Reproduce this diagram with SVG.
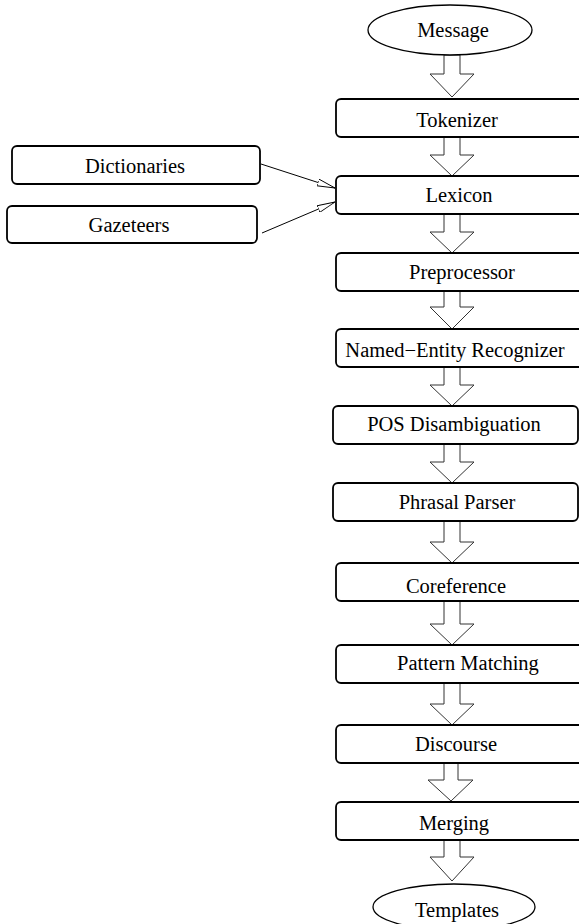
<svg xmlns="http://www.w3.org/2000/svg" width="579" height="924" viewBox="0 0 579 924">
<style>
.box{fill:#fff;stroke:#000;stroke-width:1.8}
.ell{fill:#fff;stroke:#000;stroke-width:1.3}
.blk{fill:#fff;stroke:#333;stroke-width:1}
.ln{fill:none;stroke:#000;stroke-width:1}
text{font-family:"Liberation Serif","Times New Roman",serif;font-size:20.5px;fill:#000;text-anchor:middle}
</style>
<defs>
<marker id="open" viewBox="0 0 18 8" refX="18" refY="4" markerWidth="18" markerHeight="8" markerUnits="userSpaceOnUse" orient="auto">
<path d="M0,0.5 L18,4 L0,7.5 Z" fill="#fff" stroke="#000" stroke-width="0.9"/>
</marker>
</defs>
<g id="connectors">
<polygon class="blk" points="444,55 460,55 460,74 474,74 452,97 430,74 444,74"/>
<polygon class="blk" points="444,137 460,137 460,155 474,155 452,176 430,155 444,155"/>
<polygon class="blk" points="444,214 460,214 460,232 474,232 452,253 430,232 444,232"/>
<polygon class="blk" points="444,291 460,291 460,307 474,307 452,329 430,307 444,307"/>
<polygon class="blk" points="444,367 460,367 460,385 474,385 452,406 430,385 444,385"/>
<polygon class="blk" points="444,444 460,444 460,462 474,462 452,483 430,462 444,462"/>
<polygon class="blk" points="444,521 460,521 460,542 474,542 452,563 430,542 444,542"/>
<polygon class="blk" points="444,601 460,601 460,624 474,624 452,645 430,624 444,624"/>
<polygon class="blk" points="444,683 460,683 460,704 474,704 452,725 430,704 444,704"/>
<polygon class="blk" points="444,761 458,761 458,780 473,780 451,801 428,780 444,780"/>
<polygon class="blk" points="444,840 460,840 460,857 474,857 452,881 430,857 444,857"/>
<line class="ln" x1="261" y1="164" x2="335" y2="188" marker-end="url(#open)"/>
<line class="ln" x1="262" y1="233" x2="335" y2="202" marker-end="url(#open)"/>
</g>
<g id="message"><ellipse class="ell" cx="450" cy="30" rx="82" ry="25"/><text x="453" y="37">Message</text></g>
<g id="tokenizer"><rect class="box" x="336" y="99" width="248" height="38" rx="5"/><text x="457" y="127">Tokenizer</text></g>
<g id="dictionaries"><rect class="box" x="12" y="146" width="248" height="38" rx="5"/><text x="135" y="173">Dictionaries</text></g>
<g id="lexicon"><rect class="box" x="336" y="176" width="248" height="38" rx="5"/><text x="459" y="202">Lexicon</text></g>
<g id="gazeteers"><rect class="box" x="7" y="206" width="250" height="37" rx="5"/><text x="129" y="232">Gazeteers</text></g>
<g id="preprocessor"><rect class="box" x="336" y="253" width="248" height="38" rx="5"/><text x="462" y="279">Preprocessor</text></g>
<g id="ner"><rect class="box" x="336" y="329" width="248" height="38" rx="5"/><text x="455" y="357">Named−Entity Recognizer</text></g>
<g id="pos"><rect class="box" x="333" y="406" width="245" height="38" rx="5"/><text x="454" y="431">POS Disambiguation</text></g>
<g id="phrasal"><rect class="box" x="333" y="483" width="245" height="38" rx="5"/><text x="457" y="509">Phrasal Parser</text></g>
<g id="coreference"><rect class="box" x="336" y="563" width="248" height="38" rx="5"/><text x="456" y="593">Coreference</text></g>
<g id="pattern"><rect class="box" x="336" y="645" width="248" height="38" rx="5"/><text x="468" y="670">Pattern Matching</text></g>
<g id="discourse"><rect class="box" x="336" y="725" width="248" height="38" rx="5"/><text x="456" y="751">Discourse</text></g>
<g id="merging"><rect class="box" x="336" y="802" width="248" height="38" rx="5"/><text x="454" y="830">Merging</text></g>
<g id="templates"><ellipse class="ell" cx="454" cy="907" rx="81" ry="23"/><text x="457" y="917">Templates</text></g>
</svg>
